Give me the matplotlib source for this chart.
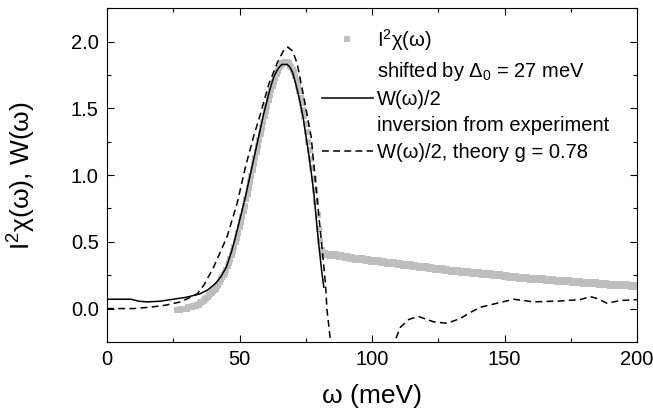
import numpy as np
import matplotlib
matplotlib.use("Agg")
import matplotlib.pyplot as plt
from matplotlib.lines import Line2D

plt.rcParams['font.family'] = ['Liberation Sans', 'DejaVu Sans']
plt.rcParams['mathtext.fontset'] = 'custom'
plt.rcParams['mathtext.rm'] = 'Liberation Sans'
plt.rcParams['mathtext.it'] = 'Liberation Sans:italic'

# I^2 chi(omega), shifted by Delta_0 (grey squares)
PeakOmega = np.arange(26.5, 81.5, 0.5)
PeakChi = [
    -0.01, -0.01, -0.01, 0.00, 0.00, 0.00, 0.00, 0.00, 0.01,
    0.01, 0.01, 0.01, 0.02, 0.02, 0.02, 0.03, 0.03, 0.04, 0.05,
    0.05, 0.06, 0.07, 0.08, 0.09, 0.10, 0.11, 0.12, 0.13, 0.14,
    0.15, 0.17, 0.18, 0.20, 0.22, 0.24, 0.25, 0.27, 0.29, 0.32,
    0.34, 0.37, 0.40, 0.43, 0.46, 0.50, 0.53, 0.57, 0.61, 0.65,
    0.69, 0.73, 0.77, 0.82, 0.86, 0.90, 0.95, 0.99, 1.04, 1.08,
    1.13, 1.17, 1.22, 1.26, 1.31, 1.35, 1.40, 1.44, 1.48, 1.52,
    1.56, 1.60, 1.64, 1.67, 1.70, 1.73, 1.76, 1.78, 1.80, 1.82,
    1.83, 1.84, 1.85, 1.85, 1.85, 1.84, 1.82, 1.81, 1.79, 1.77,
    1.74, 1.71, 1.67, 1.63, 1.58, 1.54, 1.49, 1.44, 1.38, 1.32,
    1.25, 1.19, 1.12, 1.05, 0.97, 0.89, 0.80, 0.70, 0.60, 0.51,
    0.44,
]
TailOmega = np.arange(82.0, 201.0, 2.0)
TailChi = [
    0.410, 0.404, 0.398, 0.392, 0.386, 0.380, 0.375, 0.369, 0.364, 0.359,
    0.354, 0.349, 0.345, 0.340, 0.335, 0.330, 0.325, 0.320, 0.315, 0.310,
    0.305, 0.300, 0.295, 0.290, 0.285, 0.280, 0.276, 0.272, 0.268, 0.264,
    0.260, 0.256, 0.252, 0.248, 0.244, 0.240, 0.236, 0.232, 0.228, 0.225,
    0.222, 0.219, 0.216, 0.213, 0.210, 0.207, 0.204, 0.201, 0.198, 0.195,
    0.192, 0.189, 0.186, 0.183, 0.180, 0.178, 0.176, 0.174, 0.172, 0.170,
]

# W(omega)/2, inversion from experiment (solid)
InvOmega = [0, 4, 9, 12, 15, 20, 25, 30, 35, 38, 41, 43, 45, 46, 47, 48,
            49, 50, 51, 52, 53, 54, 55, 56, 57, 58, 59, 60, 61, 62, 63, 64,
            65, 66, 67.3, 68, 69, 70, 71, 72, 73, 74, 75, 76, 77, 78, 79,
            80, 81, 81.8]
InvW = [0.07, 0.07, 0.07, 0.055, 0.05, 0.055, 0.07, 0.085, 0.11, 0.14,
        0.19, 0.24, 0.31, 0.37, 0.43, 0.50, 0.58, 0.66, 0.74, 0.82, 0.91,
        1.00, 1.09, 1.18, 1.27, 1.36, 1.45, 1.53, 1.61, 1.68, 1.74, 1.78,
        1.81, 1.83, 1.83, 1.83, 1.81, 1.77, 1.70, 1.62, 1.53, 1.43, 1.30,
        1.17, 1.03, 0.87, 0.66, 0.46, 0.28, 0.16]

# W(omega)/2, theory g = 0.78 (dashed), nan where it leaves the frame
TheoOmega = [0, 10, 16, 22, 27.7, 31, 34, 36.5, 40.2, 45.3, 49.1, 52.2,
             55.3, 57.9, 61, 64.2, 66.5, 68.2, 70, 71.7, 74.2, 77.0, 79.2,
             81.1, 82.4, 83, 84.3, 85, 96,
             107.5, 108.5, 110.7, 114, 117.6, 120.5, 123.3, 128.3, 133.3,
             137, 140.9, 147.2, 153.5, 161, 171, 178.6, 182.4, 185, 188.7,
             193.7, 200]
TheoW = [0.0, 0.0, 0.01, 0.025, 0.05, 0.08, 0.11, 0.175, 0.31, 0.54, 0.79,
         1.06, 1.29, 1.46, 1.68, 1.84, 1.93, 1.96, 1.93, 1.84, 1.59, 1.29,
         0.84, 0.46, 0.19, -0.01, -0.24, -0.35, np.nan,
         -0.30, -0.25, -0.14, -0.08, -0.06, -0.08, -0.10, -0.11, -0.075,
         -0.03, 0.01, 0.04, 0.07, 0.05, 0.057, 0.067, 0.09, 0.075, 0.04,
         0.06, 0.067]

XTicks = [0, 50, 100, 150, 200]
YTicks = [0.0, 0.5, 1.0, 1.5, 2.0]

Grey = '#BEBEBE'
PeakMark = 4.7
TailMark = 6.3
Dash = (0, (4.5, 2.8))

Fig = plt.figure(figsize=(6.53, 4.18), dpi=100)
Ax = Fig.add_axes([0.164, 0.182, 0.8115, 0.798])

Ax.plot(PeakOmega, PeakChi, 's', color=Grey, markersize=PeakMark,
        markeredgewidth=0)
Ax.plot(TailOmega, TailChi, 's', color=Grey, markersize=TailMark,
        markeredgewidth=0)
Ax.plot(InvOmega, InvW, '-', color='black', lw=1.1)
Ax.plot(TheoOmega, TheoW, color='black', lw=1.1, linestyle=Dash)

Ax.set_xlim(0, 200)
Ax.set_ylim(-0.25, 2.25)
Ax.set_xticks(XTicks)
Ax.set_xticklabels([str(t) for t in XTicks])
Ax.set_yticks(YTicks)
Ax.set_yticklabels([f"{t:.1f}" for t in YTicks])
Ax.set_xticks(np.arange(25, 200, 50), minor=True)
Ax.set_yticks(np.arange(-0.25, 2.26, 0.5), minor=True)
Ax.tick_params(which='both', direction='in', top=True, right=True,
               labelsize=14.5, width=0.8, pad=6)
Ax.tick_params(which='major', length=5)
Ax.tick_params(which='minor', length=3)
for Spine in Ax.spines.values():
    Spine.set_linewidth(0.8)

Ax.set_xlabel('ω (meV)', fontsize=19)
Ax.set_ylabel(r'$\mathregular{I^2}$χ(ω), W(ω)', fontsize=19)
Ax.xaxis.set_label_coords(0.5, -0.125)
Ax.yaxis.set_label_coords(-0.13, 0.5)

Handles = [
    Line2D([], [], marker='s', color=Grey, linestyle='none',
           markersize=PeakMark, markeredgewidth=0),
    Line2D([], [], linestyle='none'),
    Line2D([], [], color='black', lw=1.1),
    Line2D([], [], linestyle='none'),
    Line2D([], [], color='black', lw=1.1, linestyle=Dash),
]
Labels = [
    r'$\mathregular{I^2}$χ(ω)',
    r'shifted by $\mathregular{\Delta_0}$ = 27 meV',
    'W(ω)/2',
    'inversion from experiment',
    'W(ω)/2, theory g = 0.78',
]
Ax.legend(Handles, Labels, loc='upper left', bbox_to_anchor=(0.406, 0.945),
          frameon=False, fontsize=14.5, handlelength=2.5, handletextpad=0.2,
          labelspacing=0.36, borderpad=0, borderaxespad=0, numpoints=1)

Fig.savefig('out.png', dpi=100)
